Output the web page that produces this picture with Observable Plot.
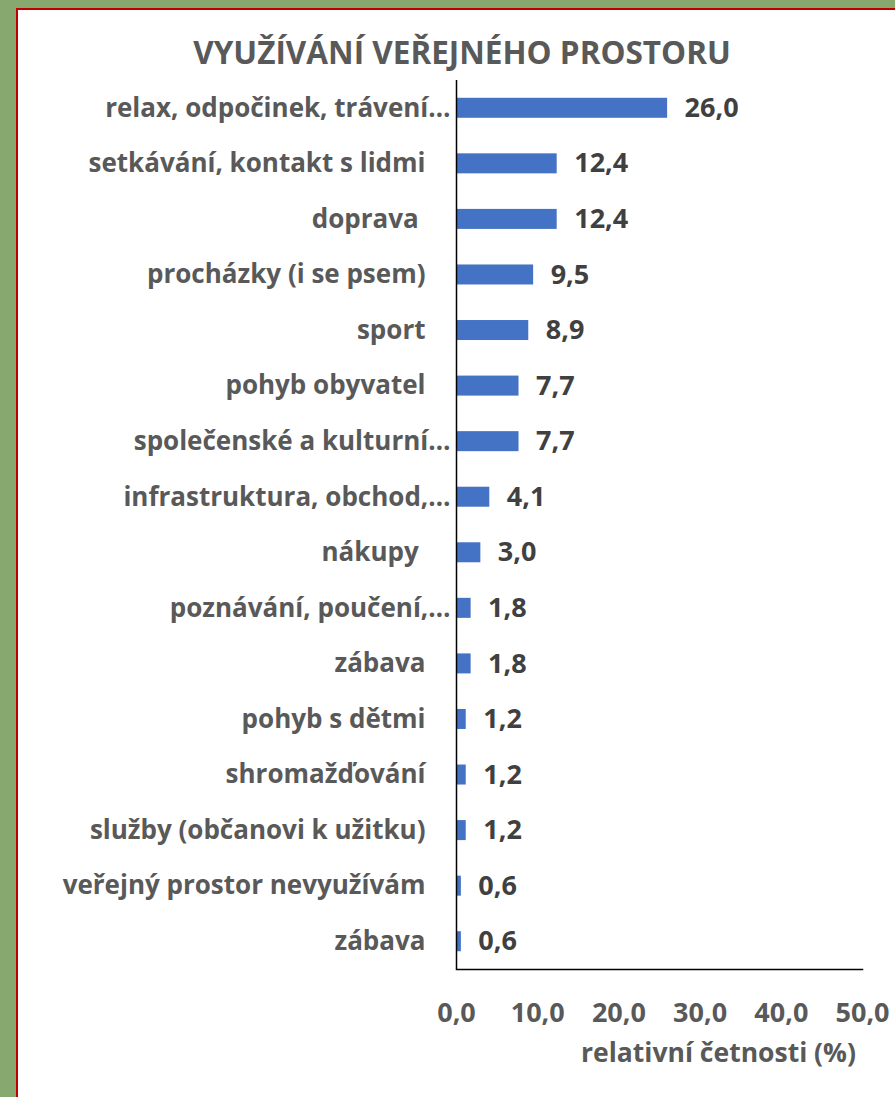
<!DOCTYPE html>
<html><head><meta charset="utf-8">
<script src="https://cdn.jsdelivr.net/npm/d3@7"></script>
<script src="https://cdn.jsdelivr.net/npm/@observablehq/plot@0.6"></script>
<style>
html,body{margin:0;padding:0;width:895px;height:1097px;overflow:hidden;background:#87A96F;font-family:"Open Sans",sans-serif;}
#panel{position:absolute;left:16px;top:8px;width:900px;height:1200px;background:#fff;border:2px solid #C00000;box-sizing:border-box;}
#title{position:absolute;left:0;width:924px;top:32px;text-align:center;font-weight:bold;font-size:31.5px;color:#595959;line-height:40px;z-index:2;}
#chart{position:absolute;left:0;top:0;z-index:1;}
</style></head>
<body>
<div id="panel"></div>
<div id="title">VYUŽÍVÁNÍ VEŘEJNÉHO PROSTORU</div>
<div id="chart"></div>
<script>
const categories = [
  "relax, odpočinek, trávení…",
  "setkávání, kontakt s lidmi",
  "doprava ",
  "procházky (i se psem)",
  "sport",
  "pohyb obyvatel",
  "společenské a kulturní…",
  "infrastruktura, obchod,…",
  "nákupy ",
  "poznávání, poučení,…",
  "zábava",
  "pohyb s dětmi",
  "shromažďování",
  "služby (občanovi k užitku)",
  "veřejný prostor nevyužívám",
  "zábava"
];
const values = [26.0, 12.4, 12.4, 9.5, 8.9, 7.7, 7.7, 4.1, 3.0, 1.8, 1.8, 1.2, 1.2, 1.2, 0.6, 0.6];
const xTicks = [0, 10, 20, 30, 40, 50];
const xLabel = "relativní četnosti (%)";

const data = categories.map((c, i) => ({i, label: c, value: values[i], truncated: c.endsWith("…")}));
const fmt = v => v.toFixed(1).replace(".", ",");
const font = "'Open Sans', sans-serif";

const chart = Plot.plot({
  width: 895,
  height: 1097,
  marginLeft: 456,
  marginRight: 33,
  marginTop: 80,
  marginBottom: 128,
  style: {fontFamily: font, background: "transparent", overflow: "visible"},
  x: {domain: [0, 50], ticks: xTicks, tickFormat: fmt},
  y: {domain: data.map(d => d.i), paddingInner: 0.64, paddingOuter: 0.32, round: false, axis: null},
  marks: [
    Plot.barX(data, {x: "value", y: "i", fill: "#4472C4"}),
    Plot.text(data, {x: "value", y: "i", text: d => fmt(d.value), textAnchor: "start", dx: 17,
      fill: "#404040", fontSize: 27, fontWeight: "bold"}),
    Plot.text(data.filter(d => !d.truncated), {x: 0, y: "i", text: "label", textAnchor: "end", dx: -31,
      fill: "#595959", fontSize: 26, fontWeight: "bold"}),
    Plot.text(data.filter(d => d.truncated), {x: 0, y: "i", text: "label", textAnchor: "end", dx: -6,
      fill: "#595959", fontSize: 26, fontWeight: "bold"}),
    Plot.axisX({ticks: xTicks, tickFormat: fmt, tickSize: 0, tickPadding: 33, label: null,
      fill: "#595959", fontSize: 27, fontWeight: "bold"}),
    Plot.text([xLabel], {frameAnchor: "bottom", dx: 59, dy: 92, fill: "#595959", fontSize: 26.5, fontWeight: "bold"}),
    Plot.ruleX([0], {stroke: "black", strokeWidth: 1.5}),
    Plot.frame({anchor: "bottom", stroke: "black", strokeWidth: 1.5})
  ]
});
document.getElementById("chart").appendChild(chart);
</script>
</body></html>
